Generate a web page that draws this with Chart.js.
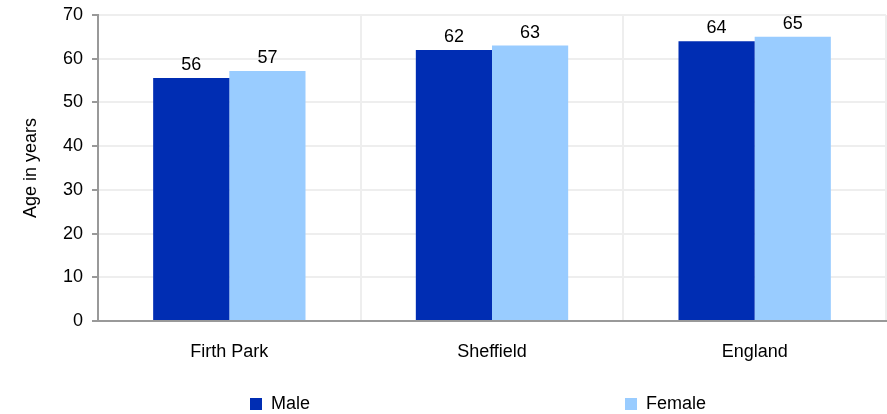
<!DOCTYPE html>
<html>
<head>
<meta charset="utf-8">
<script src="https://cdn.jsdelivr.net/npm/chart.js@4/dist/chart.umd.min.js"></script>
<style>
  body { margin: 0; background: #fff; font-family: "Liberation Sans", Arial, sans-serif; }
  .wrap { position: relative; width: 887px; height: 414px; }
  .legend { position: absolute; top: 393px; font-size: 18px; color: #000; display: flex; align-items: center; }
  .legend span.box { display: inline-block; width: 12px; height: 12px; margin-right: 9px; }
</style>
</head>
<body>
<div class="wrap">
  <canvas id="chart" width="887" height="414"></canvas>
  <div id="legend"></div>
</div>
<script>
const categories = ["Firth Park", "Sheffield", "England"];
const maleValues = [55.6, 62, 64];
const femaleValues = [57.2, 63, 65];
const yTicks = [0, 10, 20, 30, 40, 50, 60, 70];
const seriesNames = ["Male", "Female"];
const seriesColors = ["#002db3", "#99ccff"];

const font = { family: "'Liberation Sans', Arial, sans-serif", size: 18 };

// value labels above the bars
const barLabels = {
  id: "barLabels",
  afterDatasetsDraw(chart) {
    const ctx = chart.ctx;
    ctx.save();
    ctx.font = "18px 'Liberation Sans', Arial, sans-serif";
    ctx.fillStyle = "#000";
    ctx.textAlign = "center";
    ctx.textBaseline = "bottom";
    chart.data.datasets.forEach((ds, i) => {
      chart.getDatasetMeta(i).data.forEach((bar, j) => {
        ctx.fillText(Math.round(ds.data[j]), bar.x, bar.y - 4);
      });
    });
    ctx.restore();
  }
};

new Chart(document.getElementById("chart"), {
  type: "bar",
  data: {
    labels: categories,
    datasets: [
      { label: seriesNames[0], data: maleValues, backgroundColor: seriesColors[0] },
      { label: seriesNames[1], data: femaleValues, backgroundColor: seriesColors[1] }
    ]
  },
  options: {
    responsive: false,
    animation: false,
    categoryPercentage: 0.58,
    barPercentage: 1,
    layout: { padding: { top: 1, right: 1, left: 0, bottom: 0 } },
    plugins: { legend: { display: false }, tooltip: { enabled: false } },
    scales: {
      x: {
        grid: { color: "#eeeeee", lineWidth: 2, drawTicks: false, offset: true },
        border: { color: "#999999", width: 2 },
        ticks: { color: "#000", font: font, padding: 20 },
        afterFit(scale) { scale.height = 93; }
      },
      y: {
        min: 0,
        max: 70,
        afterBuildTicks(scale) { scale.ticks = yTicks.map(v => ({ value: v })); },
        grid: { color: "#eeeeee", lineWidth: 2, tickColor: "#999999", tickLength: 6 },
        border: { color: "#999999", width: 2 },
        ticks: { color: "#000", font: font, padding: 9 },
        title: { display: true, text: "Age in years", color: "#000", font: font, padding: { top: 20, bottom: 0 } },
        afterFit(scale) { scale.width = 98; scale.paddingTop = 15; }
      }
    }
  },
  plugins: [barLabels]
});

// legend spread out like the original
const legendLeft = [250, 625];
const legendEl = document.getElementById("legend");
seriesNames.forEach((name, i) => {
  const item = document.createElement("div");
  item.className = "legend";
  item.style.left = legendLeft[i] + "px";
  item.innerHTML = '<span class="box" style="background:' + seriesColors[i] + '"></span>' + name;
  legendEl.appendChild(item);
});
</script>
</body>
</html>
